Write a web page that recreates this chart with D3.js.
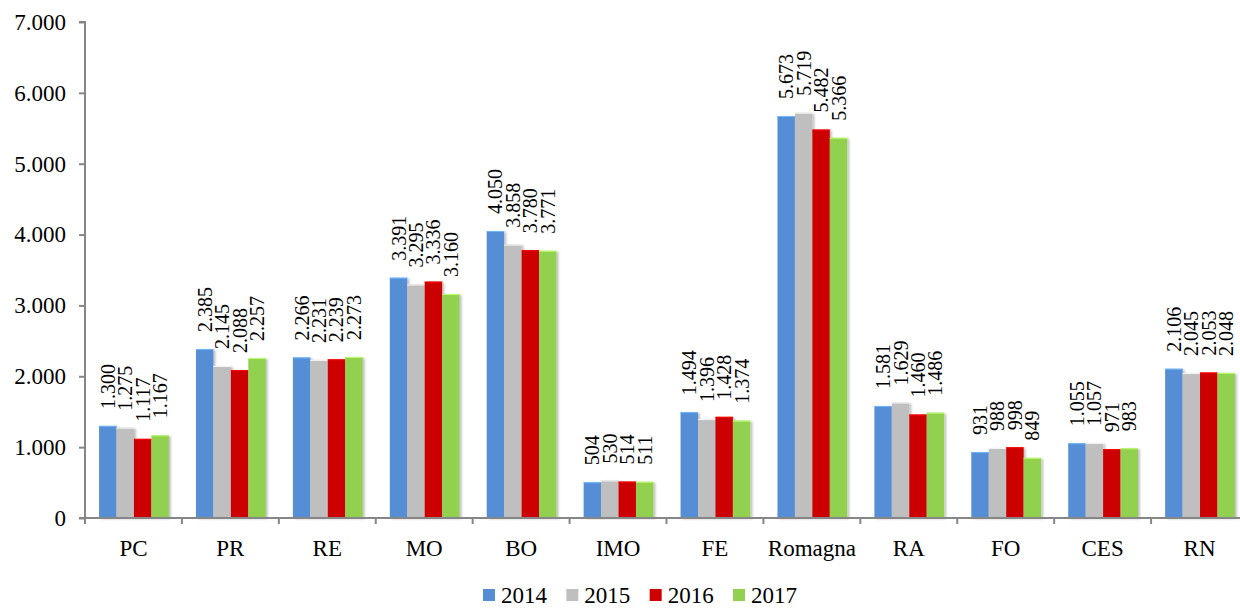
<!DOCTYPE html>
<html>
<head>
<meta charset="utf-8">
<script src="https://cdn.jsdelivr.net/npm/d3@7"></script>
<style>
  body { margin: 0; background: #fff; }
  svg { display: block; }
</style>
</head>
<body>
<svg id="chart" width="1240" height="608"></svg>
<script>
const categories = ["PC", "PR", "RE", "MO", "BO", "IMO", "FE", "Romagna", "RA", "FO", "CES", "RN"];
const years = ["2014", "2015", "2016", "2017"];
const values2014 = [1300, 2385, 2266, 3391, 4050, 504, 1494, 5673, 1581, 931, 1055, 2106];
const values2015 = [1275, 2145, 2231, 3295, 3858, 530, 1396, 5719, 1629, 988, 1057, 2045];
const values2016 = [1117, 2088, 2239, 3336, 3780, 514, 1428, 5482, 1460, 998, 971, 2053];
const values2017 = [1167, 2257, 2273, 3160, 3771, 511, 1374, 5366, 1486, 849, 983, 2048];
const yTicks = [0, 1000, 2000, 3000, 4000, 5000, 6000, 7000];

const seriesColors = ["#558ED5", "#BFBFBF", "#CC0000", "#92D050"];
const series = [values2014, values2015, values2016, values2017];

const svg = d3.select("#chart");
const margins = { left: 85, right: -8, top: 22, bottom: 90 };
const width = 1240, height = 608;
const font = "'Liberation Serif', 'Times New Roman', serif";

// italian thousands separator
const fmt = d3.formatLocale({ decimal: ",", thousands: ".", grouping: [3], currency: ["", "€"] }).format(",d");

const x = d3.scaleBand()
  .domain(categories)
  .range([margins.left, width - margins.right])
  .padding(0);

const xInner = d3.scaleBand()
  .domain(years)
  .range([x.bandwidth() * 0.145, x.bandwidth() * 0.865])
  .padding(0);

const y = d3.scaleLinear()
  .domain([0, 7000])
  .range([height - margins.bottom, margins.top]);

// soft shadow like the excel bars
const defs = svg.append("defs");
const filt = defs.append("filter").attr("id", "shadow")
  .attr("x", "-20%").attr("y", "-5%").attr("width", "160%").attr("height", "110%");
filt.append("feDropShadow")
  .attr("dx", 2).attr("dy", 1).attr("stdDeviation", 1.2)
  .attr("flood-color", "#000").attr("flood-opacity", 0.25);

const groups = svg.append("g").attr("id", "bars")
  .selectAll("g")
  .data(categories)
  .join("g")
  .attr("transform", (d) => `translate(${x(d)},0)`);

const cells = groups.selectAll("g.cell")
  .data((d, i) => years.map((yr, j) => ({ year: yr, value: series[j][i], color: seriesColors[j] })))
  .join("g")
  .attr("class", "cell");

cells.append("rect")
  .attr("x", (d) => xInner(d.year))
  .attr("width", xInner.bandwidth())
  .attr("y", (d) => y(d.value))
  .attr("height", (d) => y(0) - y(d.value))
  .attr("fill", (d) => d.color)
  .attr("filter", "url(#shadow)");

// thin lighter top edge
cells.append("line")
  .attr("x1", (d) => xInner(d.year))
  .attr("x2", (d) => xInner(d.year) + xInner.bandwidth())
  .attr("y1", (d) => y(d.value) + 0.5)
  .attr("y2", (d) => y(d.value) + 0.5)
  .attr("stroke", (d) => d3.color(d.color).brighter(0.7))
  .attr("stroke-width", 1);

// value labels, rotated
cells.append("text")
  .attr("transform", (d) => `translate(${xInner(d.year) + xInner.bandwidth() / 2},${y(d.value) - 17}) rotate(-90)`)
  .attr("dy", "0.35em")
  .attr("text-anchor", "start")
  .attr("font-family", font)
  .attr("font-size", "20px")
  .attr("fill", "#000")
  .text((d) => fmt(d.value));

// y axis
const yAxis = svg.append("g")
  .attr("transform", `translate(${margins.left},0)`)
  .call(d3.axisLeft(y).tickValues(yTicks).tickSize(6).tickPadding(13).tickFormat(fmt));
yAxis.select(".domain").attr("stroke", "#868686").attr("stroke-width", 2)
  .attr("d", `M-6,${y(7000)}H0V${y(0)}`);
yAxis.selectAll(".tick line").attr("stroke", "#868686").attr("stroke-width", 2);
yAxis.selectAll(".tick text")
  .attr("font-family", font).attr("font-size", "23px").attr("fill", "#000");

// x axis: ticks between categories
const xAxis = svg.append("g")
  .attr("transform", `translate(0,${y(0)})`);
xAxis.append("line")
  .attr("x1", margins.left - 6).attr("x2", width)
  .attr("stroke", "#868686").attr("stroke-width", 2);
xAxis.selectAll("line.sep")
  .data(categories)
  .join("line")
  .attr("class", "sep")
  .attr("x1", (d) => x(d)).attr("x2", (d) => x(d))
  .attr("y1", 0).attr("y2", 6)
  .attr("stroke", "#868686").attr("stroke-width", 2);
xAxis.selectAll("text")
  .data(categories)
  .join("text")
  .attr("x", (d) => x(d) + x.bandwidth() / 2)
  .attr("y", 38)
  .attr("text-anchor", "middle")
  .attr("font-family", font)
  .attr("font-size", "23px")
  .attr("fill", "#000")
  .text((d) => d);

// legend
const legendX = d3.scalePoint().domain(years).range([483, 733]);
const legend = svg.append("g").selectAll("g")
  .data(years)
  .join("g")
  .attr("transform", (d) => `translate(${legendX(d)},589)`);
legend.append("rect")
  .attr("width", 12).attr("height", 12)
  .attr("fill", (d, i) => seriesColors[i]);
legend.append("text")
  .attr("x", 18).attr("y", 14)
  .attr("font-family", font)
  .attr("font-size", "23px")
  .attr("fill", "#000")
  .text((d) => d);
</script>
</body>
</html>
